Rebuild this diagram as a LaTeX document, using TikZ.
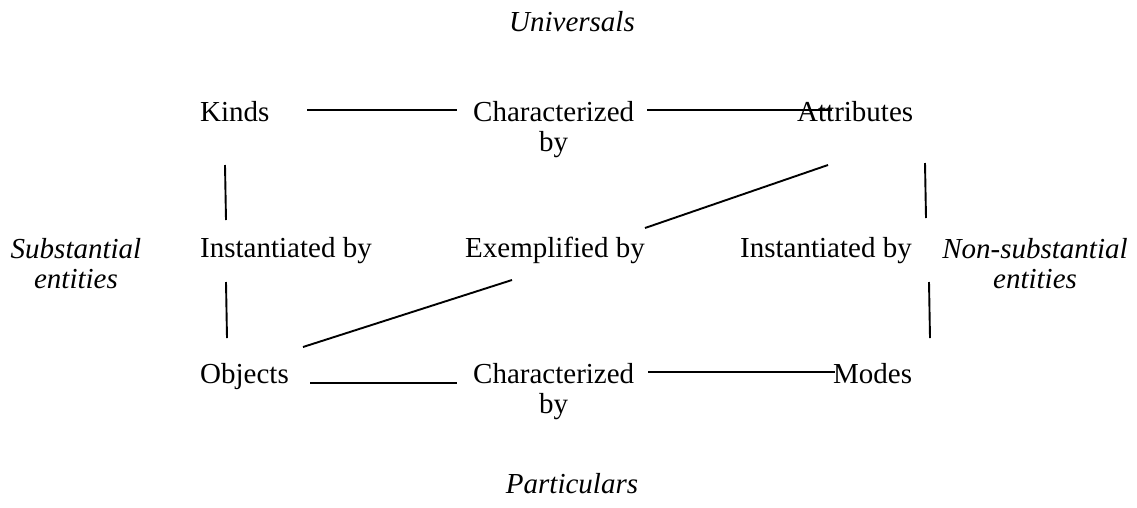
\documentclass[tikz,border=0pt]{standalone}
\usepackage{fontspec}
\setmainfont{Liberation Serif}
\begin{document}
\begin{tikzpicture}[x=1pt,y=-1pt,
  lbl/.style={inner sep=0pt, anchor=base west, font=\fontsize{29}{30}\selectfont},
  ital/.style={inner sep=0pt, anchor=base, font=\fontsize{29}{30}\selectfont\itshape},
  link/.style={line width=1.9pt, black}]
\useasboundingbox (0,0) rectangle (1137,507);
% labels
\node[ital] (universals) at (572,31) {Universals};
\node[ital] (particulars) at (572,493) {Particulars};
\node[ital] (subst) at (76,258) {\begin{tabular}[t]{@{}c@{}}Substantial\\entities\end{tabular}};
\node[ital] (nonsubst) at (1035,258) {\begin{tabular}[t]{@{}c@{}}Non-substantial\\entities\end{tabular}};
\node[lbl] (kinds) at (200,121) {Kinds};
\node[lbl] (charTop) at (473,121) {\begin{tabular}[t]{@{}c@{}}Characterized\\by\end{tabular}};
\node[lbl] (attributes) at (797,121) {Attributes};
\node[lbl] (instL) at (200,257) {Instantiated by};
\node[lbl] (exempl) at (465,257) {Exemplified by};
\node[lbl] (instR) at (740,257) {Instantiated by};
\node[lbl] (objects) at (200,383) {Objects};
\node[lbl] (charBot) at (473,383) {\begin{tabular}[t]{@{}c@{}}Characterized\\by\end{tabular}};
\node[lbl] (modes) at (833,383) {Modes};
% line end points
\coordinate (k1) at (307,110); \coordinate (k2) at (457,110);
\coordinate (a1) at (647,110); \coordinate (a2) at (832,110);
\coordinate (kv1) at (225,165); \coordinate (kv2) at (226,220);
\coordinate (ov1) at (226,282); \coordinate (ov2) at (227,338);
\coordinate (ad1) at (828,165); \coordinate (ad2) at (645,228);
\coordinate (ed1) at (512,280); \coordinate (ed2) at (303,347);
\coordinate (rv1) at (925,163); \coordinate (rv2) at (926,218);
\coordinate (mv1) at (929,282); \coordinate (mv2) at (930,338);
\coordinate (o1) at (310,383); \coordinate (o2) at (457,383);
\coordinate (m1) at (648,372); \coordinate (m2) at (835,372);
% connectors
\draw[link] (k1) -- (k2);
\draw[link] (a1) -- (a2);
\draw[link] (kv1) -- (kv2);
\draw[link] (ov1) -- (ov2);
\draw[link] (ad1) -- (ad2);
\draw[link] (ed1) -- (ed2);
\draw[link] (rv1) -- (rv2);
\draw[link] (mv1) -- (mv2);
\draw[link] (o1) -- (o2);
\draw[link] (m1) -- (m2);
\end{tikzpicture}
\end{document}
